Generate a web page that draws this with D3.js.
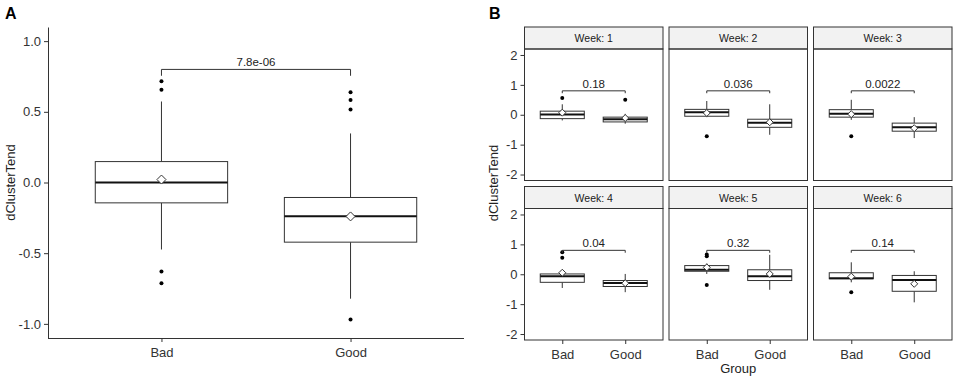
<!DOCTYPE html>
<html>
<head>
<meta charset="utf-8">
<script src="https://cdn.jsdelivr.net/npm/d3@7"></script>
<style>
  body { margin: 0; background: #fff; }
  svg { font-family: "Liberation Sans", Arial, sans-serif; }
</style>
</head>
<body>
<div id="chart"></div>
<script>
// groups on the x axis
const groups = ["Bad", "Good"];

// panel A: whole-period summary, per group
// [lowWhisker, q1, median, q3, highWhisker]
const allStats = [[-0.474, -0.144, 0.0, 0.148, 0.573], [-0.822, -0.422, -0.238, -0.106, 0.347]];
const allMeans = [0.021, -0.24];
const allOutliers = [[0.717, 0.656, -0.629, -0.712], [0.639, 0.583, 0.516, -0.969]];
const allP = "7.8e-06";

// panel B: per week
const weeks = ["Week: 1", "Week: 2", "Week: 3", "Week: 4", "Week: 5", "Week: 6"];
const weekStats = [
  [[-0.19, -0.13, 0.01, 0.12, 0.35], [-0.30, -0.24, -0.15, -0.08, 0.03]],
  [[-0.08, -0.05, 0.08, 0.18, 0.46], [-0.67, -0.42, -0.27, -0.15, 0.35]],
  [[-0.17, -0.08, 0.03, 0.17, 0.50], [-0.78, -0.55, -0.42, -0.28, -0.08]],
  [[-0.46, -0.27, -0.07, 0.01, 0.12], [-0.60, -0.41, -0.29, -0.21, 0.01]],
  [[0.01, 0.10, 0.15, 0.29, 0.36], [-0.52, -0.21, -0.07, 0.15, 0.65]],
  [[-0.27, -0.15, -0.13, 0.05, 0.40], [-0.94, -0.57, -0.19, -0.04, 0.10]]
];
const weekMeans = [[0.07, -0.11], [0.06, -0.25], [0.02, -0.45], [0.05, -0.30], [0.23, 0.01], [-0.08, -0.32]];
const weekOutliers = [
  [[0.56], [0.50]],
  [[-0.72], []],
  [[-0.72], []],
  [[0.74, 0.55], []],
  [[0.66, 0.60, -0.36], []],
  [[-0.60], []]
];
const weekP = ["0.18", "0.036", "0.0022", "0.04", "0.32", "0.14"];

const ticksA = [-1, -0.5, 0, 0.5, 1];
const ticksB = [-2, -1, 0, 1, 2];

const W = 957, H = 379;
const ink = "#333333";
// R prints a plain hyphen for negatives
const fmtA = v => d3.format(".1f")(v).replace("\u2212", "-");
const fmtB = v => d3.format("d")(v).replace("\u2212", "-");

const svg = d3.select("#chart").append("svg")
  .attr("width", W).attr("height", H);

// draws the boxes for one panel
function drawBoxes(g, x, y, stats, means, outliers, p, bracketY, tipY, boxW, diam, dotR, fontP) {
  groups.forEach((grp, i) => {
    const cx = x(grp), s = stats[i];
    g.append("line").attr("x1", cx).attr("x2", cx)
      .attr("y1", y(s[0])).attr("y2", y(s[1]))
      .attr("stroke", ink).attr("stroke-width", 1);
    g.append("line").attr("x1", cx).attr("x2", cx)
      .attr("y1", y(s[3])).attr("y2", y(s[4]))
      .attr("stroke", ink).attr("stroke-width", 1);
    g.append("rect")
      .attr("x", cx - boxW / 2).attr("width", boxW)
      .attr("y", y(s[3])).attr("height", y(s[1]) - y(s[3]))
      .attr("fill", "#fff").attr("stroke", ink).attr("stroke-width", 1);
    g.append("line").attr("x1", cx - boxW / 2).attr("x2", cx + boxW / 2)
      .attr("y1", y(s[2])).attr("y2", y(s[2]))
      .attr("stroke", "#111").attr("stroke-width", 2);
    outliers[i].forEach(v => {
      g.append("circle").attr("cx", cx).attr("cy", y(v)).attr("r", dotR).attr("fill", "#000");
    });
    const my = y(means[i]);
    g.append("path")
      .attr("d", `M${cx},${my - diam} L${cx + diam},${my} L${cx},${my + diam} L${cx - diam},${my} Z`)
      .attr("fill", "#fff").attr("stroke", ink).attr("stroke-width", 1);
  });
  // significance bracket
  const x0 = x(groups[0]), x1 = x(groups[1]);
  g.append("path")
    .attr("d", `M${x0},${y(tipY)} L${x0},${y(bracketY)} L${x1},${y(bracketY)} L${x1},${y(tipY)}`)
    .attr("fill", "none").attr("stroke", ink).attr("stroke-width", 1);
  g.append("text").attr("x", (x0 + x1) / 2).attr("y", y(bracketY) - 3)
    .attr("text-anchor", "middle").attr("font-size", fontP).attr("fill", "#222")
    .text(p);
}

// ---------- panel A ----------
const aLeft = 48, aRight = 464, aTop = 27, aBottom = 338;
const xA = d3.scalePoint().domain(groups).range([aLeft, aRight]).padding(0.6);
const yA = d3.scaleLinear().domain([-1.1, 1.1]).range([aBottom, aTop]);
const gA = svg.append("g");

gA.append("g").attr("transform", `translate(${aLeft},0)`)
  .call(d3.axisLeft(yA).tickValues(ticksA).tickFormat(fmtA).tickSize(4).tickSizeOuter(0))
  .call(a => a.select(".domain").attr("stroke", ink))
  .call(a => a.selectAll(".tick line").attr("stroke", ink))
  .call(a => a.selectAll("text").attr("font-size", 13).attr("fill", "#333").attr("font-family", "Liberation Sans, Arial, sans-serif"));
gA.append("g").attr("transform", `translate(0,${aBottom})`)
  .call(d3.axisBottom(xA).tickSize(4).tickSizeOuter(0))
  .call(a => a.select(".domain").attr("stroke", ink).attr("d", `M${aLeft},0.5H${aRight}`))
  .call(a => a.selectAll(".tick line").attr("stroke", ink))
  .call(a => a.selectAll("text").attr("font-size", 13).attr("fill", "#333").attr("dy", "0.95em").attr("font-family", "Liberation Sans, Arial, sans-serif"));

drawBoxes(gA, xA, yA, allStats, allMeans, allOutliers, allP, 0.80, 0.755, 0.7 * xA.step(), 4.5, 2, 11.5);

gA.append("text").attr("transform", `translate(15,${(aTop + aBottom) / 2}) rotate(-90)`)
  .attr("text-anchor", "middle").attr("font-size", 13).attr("fill", "#222").text("dClusterTend");
gA.append("text").attr("x", 5).attr("y", 19).attr("font-size", 16).attr("font-weight", "bold").text("A");

// ---------- panel B ----------
const colX = [524.5, 669, 813.5], panelW = 138.5;
const rowTop = [27, 186.5], stripH = 22, panelH = 131.5;
const gB = svg.append("g");

weeks.forEach((wk, k) => {
  const col = k % 3, row = Math.floor(k / 3);
  const left = colX[col], top = rowTop[row] + stripH, bottom = top + panelH;
  const x = d3.scalePoint().domain(groups).range([left, left + panelW]).padding(0.6);
  const y = d3.scaleLinear().domain([-2.2, 2.2]).range([bottom, top]);
  const g = gB.append("g");

  // strip
  g.append("rect").attr("x", left).attr("y", rowTop[row]).attr("width", panelW).attr("height", stripH)
    .attr("fill", "#f2f2f2").attr("stroke", ink).attr("stroke-width", 1);
  g.append("text").attr("x", left + panelW / 2).attr("y", rowTop[row] + stripH / 2 + 4)
    .attr("text-anchor", "middle").attr("font-size", 10.5).attr("fill", "#1a1a1a").text(wk);

  drawBoxes(g, x, y, weekStats[k], weekMeans[k], weekOutliers[k], weekP[k], 0.8, 0.72, 0.7 * x.step(), 3.5, 2, 11.5);

  g.append("rect").attr("x", left).attr("y", top).attr("width", panelW).attr("height", panelH)
    .attr("fill", "none").attr("stroke", ink).attr("stroke-width", 1);

  if (col === 0) {
    g.append("g").attr("transform", `translate(${left},0)`)
      .call(d3.axisLeft(y).tickValues(ticksB).tickFormat(fmtB).tickSize(4))
      .call(a => a.select(".domain").remove())
      .call(a => a.selectAll(".tick line").attr("stroke", ink))
      .call(a => a.selectAll("text").attr("font-size", 13).attr("fill", "#333").attr("font-family", "Liberation Sans, Arial, sans-serif"));
  }
  if (row === 1) {
    g.append("g").attr("transform", `translate(0,${bottom})`)
      .call(d3.axisBottom(x).tickSize(4))
      .call(a => a.select(".domain").remove())
      .call(a => a.selectAll(".tick line").attr("stroke", ink))
      .call(a => a.selectAll("text").attr("font-size", 13).attr("fill", "#333").attr("dy", "0.95em").attr("font-family", "Liberation Sans, Arial, sans-serif"));
  }
});

gB.append("text").attr("transform", `translate(498,183) rotate(-90)`)
  .attr("text-anchor", "middle").attr("font-size", 13).attr("fill", "#222").text("dClusterTend");
gB.append("text").attr("x", colX[1] + panelW / 2).attr("y", 373)
  .attr("text-anchor", "middle").attr("font-size", 13).attr("fill", "#222").text("Group");
gB.append("text").attr("x", 489).attr("y", 19).attr("font-size", 16).attr("font-weight", "bold").text("B");
</script>
</body>
</html>
